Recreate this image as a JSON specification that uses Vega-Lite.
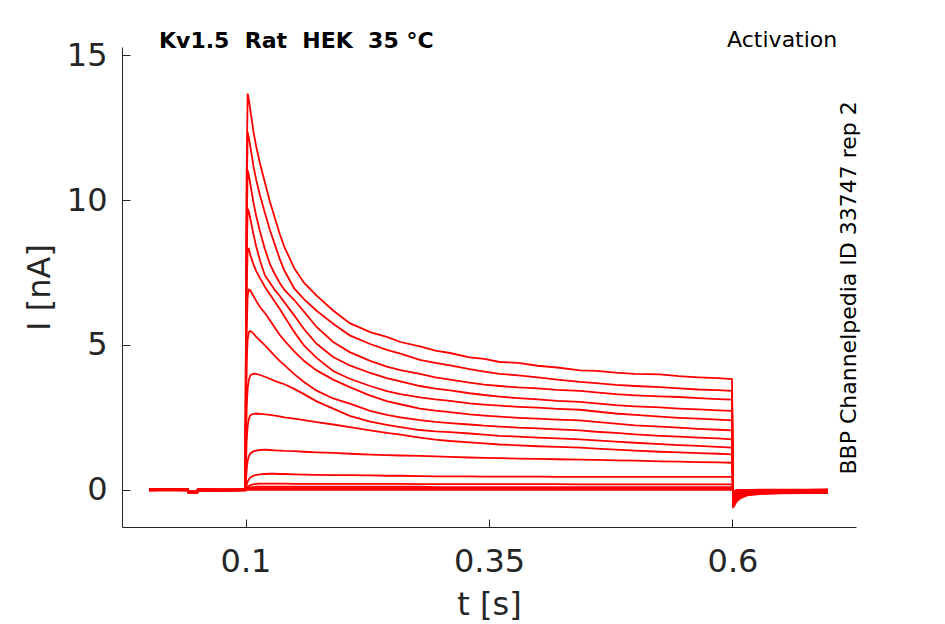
{
  "$schema": "https://vega.github.io/schema/vega-lite/v6.json",
  "autosize": "none",
  "width": 734,
  "height": 480,
  "padding": {"left": 122, "top": 47, "right": 89, "bottom": 97},
  "background": "#ffffff",
  "config": {
    "view": {"stroke": null},
    "axis": {
      "grid": false,
      "domainColor": "#262626",
      "tickColor": "#262626",
      "labelColor": "#262626",
      "titleColor": "#262626",
      "labelFont": "DejaVu Sans",
      "titleFont": "DejaVu Sans",
      "labelFontSize": 32,
      "titleFontSize": 32,
      "titleFontWeight": "normal",
      "tickSize": -8,
      "tickWidth": 1,
      "domainWidth": 1
    }
  },
  "layer": [
    {
      "data": {
        "values": [
          {"t": 0.001, "s01": 0, "s02": -0.02, "s03": 0.01, "s04": -0.01, "s05": 0.02, "s06": -0.03, "s07": 0, "s08": 0.01, "s09": -0.02, "s10": 0, "s11": 0.01, "s12": -0.01, "s13": 0, "s14": 0.02, "s15": -0.02, "s16": 0},
          {"t": 0.02, "s01": 0.01, "s02": -0.01, "s03": 0.02, "s04": 0, "s05": 0.03, "s06": -0.02, "s07": 0.01, "s08": 0.02, "s09": -0.01, "s10": 0.01, "s11": 0.02, "s12": 0, "s13": 0.01, "s14": 0.03, "s15": -0.01, "s16": 0.01},
          {"t": 0.041, "s01": 0, "s02": -0.02, "s03": 0.01, "s04": -0.01, "s05": 0.02, "s06": -0.03, "s07": 0, "s08": 0.01, "s09": -0.02, "s10": 0, "s11": 0.01, "s12": -0.01, "s13": 0, "s14": 0.02, "s15": -0.02, "s16": 0},
          {"t": 0.0415, "s01": -0.08, "s02": -0.1, "s03": -0.07, "s04": -0.09, "s05": -0.06, "s06": -0.11, "s07": -0.08, "s08": -0.07, "s09": -0.1, "s10": -0.08, "s11": -0.07, "s12": -0.09, "s13": -0.08, "s14": -0.06, "s15": -0.1, "s16": -0.08},
          {"t": 0.0505, "s01": -0.08, "s02": -0.1, "s03": -0.07, "s04": -0.09, "s05": -0.06, "s06": -0.11, "s07": -0.08, "s08": -0.07, "s09": -0.1, "s10": -0.08, "s11": -0.07, "s12": -0.09, "s13": -0.08, "s14": -0.06, "s15": -0.1, "s16": -0.08},
          {"t": 0.051, "s01": 0, "s02": -0.02, "s03": 0.01, "s04": -0.01, "s05": 0.02, "s06": -0.03, "s07": 0, "s08": 0.01, "s09": -0.02, "s10": 0, "s11": 0.01, "s12": -0.01, "s13": 0, "s14": 0.02, "s15": -0.02, "s16": 0},
          {"t": 0.07, "s01": -0.01, "s02": -0.03, "s03": 0, "s04": -0.02, "s05": 0.01, "s06": -0.04, "s07": -0.01, "s08": 0, "s09": -0.03, "s10": -0.01, "s11": 0, "s12": -0.02, "s13": -0.01, "s14": 0.01, "s15": -0.03, "s16": -0.01},
          {"t": 0.0998, "s01": 0, "s02": -0.02, "s03": 0.01, "s04": -0.01, "s05": 0.02, "s06": -0.03, "s07": 0, "s08": 0.01, "s09": -0.02, "s10": 0, "s11": 0.01, "s12": -0.01, "s13": 0, "s14": 0.02, "s15": -0.02, "s16": 0},
          {"t": 0.1005, "s01": 6.0, "s02": 5.5, "s03": 5.0, "s04": 4.5, "s05": 3.8, "s06": 3.0, "s07": 2.5, "s08": 1.5, "s09": 0.9, "s10": 0.3, "s11": 0.08, "s12": 0.03, "s13": 0.01, "s14": 0, "s15": 0, "s16": -0.01},
          {"t": 0.1012, "s01": 11.0, "s02": 10.0, "s03": 9.0, "s04": 8.0, "s05": 7.0, "s06": 5.5, "s07": 4.4, "s08": 2.8, "s09": 1.7, "s10": 0.7, "s11": 0.18, "s12": 0.07, "s13": 0.03, "s14": 0.02, "s15": 0.01, "s16": -0.01},
          {"t": 0.1022, "s01": 13.68, "s02": 12.35, "s03": 11.03, "s04": 9.71, "s05": 8.3, "s06": 6.7, "s07": 5.2, "s08": 3.5, "s09": 2.2, "s10": 1.0, "s11": 0.28, "s12": 0.1, "s13": 0.05, "s14": 0.03, "s15": 0.02, "s16": -0.01},
          {"t": 0.1035, "s01": 13.45, "s02": 12.15, "s03": 10.85, "s04": 9.6, "s05": 8.32, "s06": 6.91, "s07": 5.45, "s08": 3.8, "s09": 2.45, "s10": 1.15, "s11": 0.36, "s12": 0.13, "s13": 0.07, "s14": 0.04, "s15": 0.02, "s16": -0.01},
          {"t": 0.105, "s01": 13.1, "s02": 11.85, "s03": 10.55, "s04": 9.35, "s05": 8.1, "s06": 6.88, "s07": 5.48, "s08": 3.95, "s09": 2.57, "s10": 1.25, "s11": 0.42, "s12": 0.16, "s13": 0.08, "s14": 0.05, "s15": 0.02, "s16": -0.01},
          {"t": 0.108, "s01": 12.4, "s02": 11.2, "s03": 9.95, "s04": 8.85, "s05": 7.8, "s06": 6.7, "s07": 5.4, "s08": 4.01, "s09": 2.62, "s10": 1.32, "s11": 0.48, "s12": 0.18, "s13": 0.09, "s14": 0.05, "s15": 0.02, "s16": -0.01},
          {"t": 0.111, "s01": 11.85, "s02": 10.7, "s03": 9.45, "s04": 8.4, "s05": 7.55, "s06": 6.52, "s07": 5.28, "s08": 4.0, "s09": 2.63, "s10": 1.35, "s11": 0.51, "s12": 0.2, "s13": 0.1, "s14": 0.05, "s15": 0.02, "s16": -0.01},
          {"t": 0.115, "s01": 11.25, "s02": 10.15, "s03": 8.9, "s04": 7.9, "s05": 7.3, "s06": 6.3, "s07": 5.15, "s08": 3.96, "s09": 2.62, "s10": 1.37, "s11": 0.53, "s12": 0.21, "s13": 0.1, "s14": 0.05, "s15": 0.02, "s16": -0.01},
          {"t": 0.12, "s01": 10.6, "s02": 9.55, "s03": 8.3, "s04": 7.4, "s05": 7.0, "s06": 6.1, "s07": 4.98, "s08": 3.9, "s09": 2.6, "s10": 1.38, "s11": 0.54, "s12": 0.21, "s13": 0.1, "s14": 0.05, "s15": 0.02, "s16": -0.01},
          {"t": 0.125, "s01": 9.95, "s02": 8.98, "s03": 7.8, "s04": 7.15, "s05": 6.75, "s06": 5.85, "s07": 4.8, "s08": 3.83, "s09": 2.58, "s10": 1.37, "s11": 0.55, "s12": 0.21, "s13": 0.1, "s14": 0.05, "s15": 0.02, "s16": -0.01},
          {"t": 0.13, "s01": 9.4, "s02": 8.48, "s03": 7.45, "s04": 6.9, "s05": 6.5, "s06": 5.6, "s07": 4.62, "s08": 3.76, "s09": 2.56, "s10": 1.36, "s11": 0.55, "s12": 0.21, "s13": 0.1, "s14": 0.05, "s15": 0.02, "s16": -0.01},
          {"t": 0.135, "s01": 8.85, "s02": 7.98, "s03": 7.15, "s04": 6.7, "s05": 6.25, "s06": 5.35, "s07": 4.45, "s08": 3.7, "s09": 2.53, "s10": 1.35, "s11": 0.54, "s12": 0.21, "s13": 0.1, "s14": 0.05, "s15": 0.02, "s16": -0.01},
          {"t": 0.14, "s01": 8.38, "s02": 7.56, "s03": 6.9, "s04": 6.47, "s05": 5.98, "s06": 5.15, "s07": 4.3, "s08": 3.64, "s09": 2.5, "s10": 1.34, "s11": 0.54, "s12": 0.21, "s13": 0.1, "s14": 0.05, "s15": 0.02, "s16": -0.01},
          {"t": 0.15, "s01": 7.65, "s02": 6.95, "s03": 6.55, "s04": 6.02, "s05": 5.45, "s06": 4.78, "s07": 3.99, "s08": 3.48, "s09": 2.45, "s10": 1.33, "s11": 0.53, "s12": 0.2, "s13": 0.1, "s14": 0.05, "s15": 0.02, "s16": -0.01},
          {"t": 0.16, "s01": 7.15, "s02": 6.58, "s03": 6.15, "s04": 5.55, "s05": 4.98, "s06": 4.45, "s07": 3.72, "s08": 3.3, "s09": 2.4, "s10": 1.31, "s11": 0.52, "s12": 0.2, "s13": 0.1, "s14": 0.05, "s15": 0.02, "s16": -0.01},
          {"t": 0.173, "s01": 6.7, "s02": 6.18, "s03": 5.62, "s04": 5.04, "s05": 4.55, "s06": 4.12, "s07": 3.42, "s08": 3.05, "s09": 2.33, "s10": 1.29, "s11": 0.51, "s12": 0.2, "s13": 0.1, "s14": 0.05, "s15": 0.02, "s16": -0.01},
          {"t": 0.19, "s01": 6.19, "s02": 5.73, "s03": 5.1, "s04": 4.58, "s05": 4.1, "s06": 3.8, "s07": 3.15, "s08": 2.8, "s09": 2.25, "s10": 1.27, "s11": 0.5, "s12": 0.2, "s13": 0.1, "s14": 0.05, "s15": 0.02, "s16": -0.01},
          {"t": 0.207, "s01": 5.75, "s02": 5.33, "s03": 4.75, "s04": 4.29, "s05": 3.83, "s06": 3.54, "s07": 2.97, "s08": 2.55, "s09": 2.16, "s10": 1.24, "s11": 0.5, "s12": 0.2, "s13": 0.1, "s14": 0.05, "s15": 0.02, "s16": -0.01},
          {"t": 0.228, "s01": 5.44, "s02": 5.03, "s03": 4.45, "s04": 4.03, "s05": 3.58, "s06": 3.25, "s07": 2.72, "s08": 2.35, "s09": 2.05, "s10": 1.21, "s11": 0.49, "s12": 0.2, "s13": 0.1, "s14": 0.05, "s15": 0.02, "s16": -0.01},
          {"t": 0.245, "s01": 5.28, "s02": 4.83, "s03": 4.25, "s04": 3.85, "s05": 3.4, "s06": 3.06, "s07": 2.58, "s08": 2.24, "s09": 1.96, "s10": 1.19, "s11": 0.48, "s12": 0.2, "s13": 0.1, "s14": 0.05, "s15": 0.02, "s16": -0.01},
          {"t": 0.259, "s01": 5.1, "s02": 4.7, "s03": 4.13, "s04": 3.74, "s05": 3.3, "s06": 2.95, "s07": 2.5, "s08": 2.16, "s09": 1.9, "s10": 1.18, "s11": 0.48, "s12": 0.2, "s13": 0.1, "s14": 0.05, "s15": 0.02, "s16": -0.01},
          {"t": 0.279, "s01": 4.95, "s02": 4.48, "s03": 4.0, "s04": 3.58, "s05": 3.19, "s06": 2.8, "s07": 2.4, "s08": 2.06, "s09": 1.8, "s10": 1.17, "s11": 0.47, "s12": 0.19, "s13": 0.1, "s14": 0.05, "s15": 0.02, "s16": -0.01},
          {"t": 0.295, "s01": 4.8, "s02": 4.38, "s03": 3.88, "s04": 3.49, "s05": 3.12, "s06": 2.73, "s07": 2.34, "s08": 2.01, "s09": 1.73, "s10": 1.15, "s11": 0.46, "s12": 0.19, "s13": 0.09, "s14": 0.05, "s15": 0.02, "s16": -0.01},
          {"t": 0.31, "s01": 4.72, "s02": 4.29, "s03": 3.8, "s04": 3.43, "s05": 3.07, "s06": 2.68, "s07": 2.3, "s08": 1.99, "s09": 1.68, "s10": 1.13, "s11": 0.46, "s12": 0.19, "s13": 0.09, "s14": 0.05, "s15": 0.02, "s16": -0.01},
          {"t": 0.33, "s01": 4.57, "s02": 4.16, "s03": 3.7, "s04": 3.33, "s05": 2.98, "s06": 2.6, "s07": 2.25, "s08": 1.94, "s09": 1.63, "s10": 1.11, "s11": 0.46, "s12": 0.19, "s13": 0.09, "s14": 0.05, "s15": 0.02, "s16": -0.01},
          {"t": 0.345, "s01": 4.52, "s02": 4.08, "s03": 3.63, "s04": 3.27, "s05": 2.94, "s06": 2.56, "s07": 2.21, "s08": 1.9, "s09": 1.6, "s10": 1.1, "s11": 0.45, "s12": 0.19, "s13": 0.09, "s14": 0.05, "s15": 0.02, "s16": -0.01},
          {"t": 0.361, "s01": 4.41, "s02": 4.0, "s03": 3.58, "s04": 3.21, "s05": 2.9, "s06": 2.52, "s07": 2.18, "s08": 1.86, "s09": 1.56, "s10": 1.09, "s11": 0.45, "s12": 0.19, "s13": 0.09, "s14": 0.05, "s15": 0.02, "s16": -0.01},
          {"t": 0.38, "s01": 4.38, "s02": 3.95, "s03": 3.53, "s04": 3.16, "s05": 2.86, "s06": 2.48, "s07": 2.14, "s08": 1.83, "s09": 1.53, "s10": 1.07, "s11": 0.45, "s12": 0.19, "s13": 0.09, "s14": 0.05, "s15": 0.02, "s16": -0.01},
          {"t": 0.4, "s01": 4.28, "s02": 3.88, "s03": 3.5, "s04": 3.12, "s05": 2.83, "s06": 2.45, "s07": 2.12, "s08": 1.8, "s09": 1.5, "s10": 1.06, "s11": 0.45, "s12": 0.19, "s13": 0.09, "s14": 0.05, "s15": 0.02, "s16": -0.01},
          {"t": 0.42, "s01": 4.22, "s02": 3.8, "s03": 3.45, "s04": 3.07, "s05": 2.79, "s06": 2.42, "s07": 2.08, "s08": 1.77, "s09": 1.48, "s10": 1.05, "s11": 0.44, "s12": 0.19, "s13": 0.09, "s14": 0.05, "s15": 0.02, "s16": -0.01},
          {"t": 0.4435, "s01": 4.12, "s02": 3.72, "s03": 3.41, "s04": 3.03, "s05": 2.76, "s06": 2.39, "s07": 2.05, "s08": 1.74, "s09": 1.45, "s10": 1.04, "s11": 0.44, "s12": 0.18, "s13": 0.09, "s14": 0.05, "s15": 0.02, "s16": -0.01},
          {"t": 0.46, "s01": 4.1, "s02": 3.68, "s03": 3.36, "s04": 2.98, "s05": 2.7, "s06": 2.34, "s07": 2.0, "s08": 1.7, "s09": 1.42, "s10": 1.03, "s11": 0.44, "s12": 0.18, "s13": 0.09, "s14": 0.05, "s15": 0.02, "s16": -0.01},
          {"t": 0.48, "s01": 4.04, "s02": 3.62, "s03": 3.3, "s04": 2.92, "s05": 2.63, "s06": 2.28, "s07": 1.96, "s08": 1.66, "s09": 1.38, "s10": 1.01, "s11": 0.44, "s12": 0.18, "s13": 0.09, "s14": 0.05, "s15": 0.02, "s16": -0.01},
          {"t": 0.5, "s01": 4.0, "s02": 3.58, "s03": 3.26, "s04": 2.88, "s05": 2.58, "s06": 2.22, "s07": 1.91, "s08": 1.62, "s09": 1.35, "s10": 1.0, "s11": 0.44, "s12": 0.18, "s13": 0.09, "s14": 0.05, "s15": 0.02, "s16": -0.01},
          {"t": 0.5256, "s01": 3.98, "s02": 3.54, "s03": 3.22, "s04": 2.84, "s05": 2.52, "s06": 2.18, "s07": 1.86, "s08": 1.57, "s09": 1.31, "s10": 0.98, "s11": 0.44, "s12": 0.18, "s13": 0.09, "s14": 0.05, "s15": 0.02, "s16": -0.01},
          {"t": 0.545, "s01": 3.92, "s02": 3.5, "s03": 3.2, "s04": 2.8, "s05": 2.48, "s06": 2.14, "s07": 1.83, "s08": 1.54, "s09": 1.29, "s10": 0.97, "s11": 0.44, "s12": 0.18, "s13": 0.09, "s14": 0.05, "s15": 0.02, "s16": -0.01},
          {"t": 0.565, "s01": 3.88, "s02": 3.46, "s03": 3.16, "s04": 2.77, "s05": 2.45, "s06": 2.1, "s07": 1.8, "s08": 1.51, "s09": 1.26, "s10": 0.95, "s11": 0.44, "s12": 0.18, "s13": 0.09, "s14": 0.05, "s15": 0.02, "s16": -0.01},
          {"t": 0.585, "s01": 3.85, "s02": 3.44, "s03": 3.13, "s04": 2.74, "s05": 2.42, "s06": 2.07, "s07": 1.77, "s08": 1.48, "s09": 1.24, "s10": 0.94, "s11": 0.44, "s12": 0.18, "s13": 0.09, "s14": 0.05, "s15": 0.02, "s16": -0.01},
          {"t": 0.5995, "s01": 3.82, "s02": 3.41, "s03": 3.11, "s04": 2.72, "s05": 2.39, "s06": 2.05, "s07": 1.74, "s08": 1.45, "s09": 1.22, "s10": 0.93, "s11": 0.44, "s12": 0.18, "s13": 0.09, "s14": 0.05, "s15": 0.02, "s16": -0.01},
          {"t": 0.6008, "s01": -0.62, "s02": -0.56, "s03": -0.5, "s04": -0.45, "s05": -0.4, "s06": -0.35, "s07": -0.3, "s08": -0.26, "s09": -0.22, "s10": -0.18, "s11": -0.14, "s12": -0.1, "s13": -0.08, "s14": -0.06, "s15": -0.05, "s16": -0.04},
          {"t": 0.604, "s01": -0.42, "s02": -0.38, "s03": -0.34, "s04": -0.3, "s05": -0.27, "s06": -0.24, "s07": -0.21, "s08": -0.18, "s09": -0.15, "s10": -0.12, "s11": -0.1, "s12": -0.07, "s13": -0.05, "s14": -0.04, "s15": -0.03, "s16": -0.02},
          {"t": 0.608, "s01": -0.3, "s02": -0.27, "s03": -0.24, "s04": -0.21, "s05": -0.19, "s06": -0.17, "s07": -0.15, "s08": -0.13, "s09": -0.11, "s10": -0.09, "s11": -0.07, "s12": -0.05, "s13": -0.04, "s14": -0.03, "s15": -0.02, "s16": -0.01},
          {"t": 0.615, "s01": -0.2, "s02": -0.18, "s03": -0.16, "s04": -0.15, "s05": -0.13, "s06": -0.12, "s07": -0.11, "s08": -0.1, "s09": -0.08, "s10": -0.07, "s11": -0.06, "s12": -0.04, "s13": -0.03, "s14": -0.03, "s15": -0.02, "s16": -0.01},
          {"t": 0.628, "s01": -0.15, "s02": -0.14, "s03": -0.13, "s04": -0.12, "s05": -0.11, "s06": -0.1, "s07": -0.09, "s08": -0.08, "s09": -0.07, "s10": -0.06, "s11": -0.05, "s12": -0.04, "s13": -0.03, "s14": -0.02, "s15": -0.01, "s16": 0},
          {"t": 0.65, "s01": -0.13, "s02": -0.12, "s03": -0.11, "s04": -0.1, "s05": -0.09, "s06": -0.08, "s07": -0.07, "s08": -0.07, "s09": -0.06, "s10": -0.05, "s11": -0.04, "s12": -0.03, "s13": -0.02, "s14": -0.02, "s15": -0.01, "s16": 0},
          {"t": 0.675, "s01": -0.12, "s02": -0.11, "s03": -0.1, "s04": -0.09, "s05": -0.08, "s06": -0.07, "s07": -0.07, "s08": -0.06, "s09": -0.05, "s10": -0.04, "s11": -0.04, "s12": -0.03, "s13": -0.02, "s14": -0.01, "s15": -0.01, "s16": 0},
          {"t": 0.698, "s01": -0.12, "s02": -0.11, "s03": -0.1, "s04": -0.09, "s05": -0.08, "s06": -0.07, "s07": -0.06, "s08": -0.06, "s09": -0.05, "s10": -0.04, "s11": -0.03, "s12": -0.03, "s13": -0.02, "s14": -0.01, "s15": 0, "s16": 0.01}
        ]
      },
      "transform": [
        {"fold": ["s01", "s02", "s03", "s04", "s05", "s06", "s07", "s08", "s09", "s10", "s11", "s12", "s13", "s14", "s15", "s16"], "as": ["sweep", "i"]}
      ],
      "mark": {"type": "line", "color": "#ff0000", "strokeWidth": 1.8, "clip": true},
      "encoding": {
        "x": {
          "field": "t",
          "type": "quantitative",
          "title": "t [s]",
          "scale": {"domain": [-0.0268, 0.7268], "nice": false, "zero": false},
          "axis": {
            "values": [0.1, 0.35, 0.6],
            "format": ".2~f",
            "labelPadding": 27,
            "titleBaseline": "alphabetic",
            "titleY": 87.5
          }
        },
        "y": {
          "field": "i",
          "type": "quantitative",
          "title": "I [nA]",
          "scale": {"domain": [-1.29, 15.29], "nice": false, "zero": false},
          "axis": {
            "values": [0, 5, 10, 15],
            "labelPadding": 23,
            "titleBaseline": "alphabetic",
            "titleAlign": "center",
            "titleX": -72.7,
            "titleY": 240
          }
        },
        "detail": {"field": "sweep", "type": "nominal"}
      }
    },
    {
      "data": {"values": [{"label": "Kv1.5\u00a0\u00a0Rat\u00a0\u00a0HEK\u00a0\u00a035 °C"}]},
      "mark": {"type": "text", "align": "left", "baseline": "alphabetic", "font": "DejaVu Sans", "fontSize": 22, "fontWeight": "bold", "color": "#000000"},
      "encoding": {
        "text": {"field": "label"},
        "x": {"datum": 0.0112, "type": "quantitative"},
        "y": {"datum": 15.27, "type": "quantitative"}
      }
    },
    {
      "data": {"values": [{"label": "Activation"}]},
      "mark": {"type": "text", "align": "center", "baseline": "alphabetic", "font": "DejaVu Sans", "fontSize": 22, "color": "#000000"},
      "encoding": {
        "text": {"field": "label"},
        "x": {"datum": 0.651, "type": "quantitative"},
        "y": {"datum": 15.29, "type": "quantitative"}
      }
    },
    {
      "data": {"values": [{"label": "BBP Channelpedia ID 33747 rep 2"}]},
      "mark": {"type": "text", "align": "center", "baseline": "middle", "angle": 270, "font": "DejaVu Sans", "fontSize": 22, "color": "#000000"},
      "encoding": {
        "text": {"field": "label"},
        "x": {"datum": 0.7196, "type": "quantitative"},
        "y": {"datum": 6.97, "type": "quantitative"}
      }
    }
  ]
}
